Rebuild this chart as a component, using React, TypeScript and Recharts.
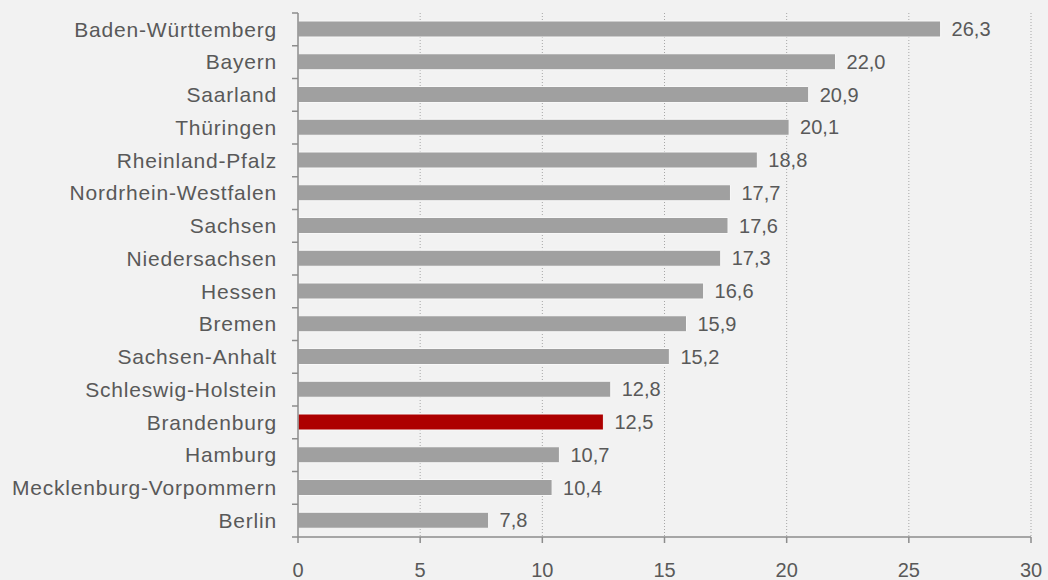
import React from 'react';
import { BarChart, Bar, XAxis, YAxis, CartesianGrid, Cell, LabelList } from 'recharts';

const states = [
  'Baden-Württemberg',
  'Bayern',
  'Saarland',
  'Thüringen',
  'Rheinland-Pfalz',
  'Nordrhein-Westfalen',
  'Sachsen',
  'Niedersachsen',
  'Hessen',
  'Bremen',
  'Sachsen-Anhalt',
  'Schleswig-Holstein',
  'Brandenburg',
  'Hamburg',
  'Mecklenburg-Vorpommern',
  'Berlin',
];
const values = [26.3, 22.0, 20.9, 20.1, 18.8, 17.7, 17.6, 17.3, 16.6, 15.9, 15.2, 12.8, 12.5, 10.7, 10.4, 7.8];
const highlight = 'Brandenburg';
const xTicks = [0, 5, 10, 15, 20, 25, 30];

const data = states.map((name, i) => ({ name, value: values[i] }));

const FONT = '"Liberation Sans", Arial, sans-serif';
const TEXT = '#595959';
const AXIS = '#8c8c8c';
const BAND = 32.75;

// category label centred on the band, tick marks on the band edges (Excel style)
const StateTick = (props: any) => {
  const { x, y, payload, index } = props;
  const last = index === states.length - 1;
  return (
    <g>
      <line x1={x + 21} x2={x + 27} y1={y - BAND / 2} y2={y - BAND / 2} stroke={AXIS} strokeWidth={1.5} />
      {last && <line x1={x + 21} x2={x + 27} y1={y + BAND / 2} y2={y + BAND / 2} stroke={AXIS} strokeWidth={1.5} />}
      <text
        x={x + 6}
        y={y}
        dy="0.35em"
        textAnchor="end"
        fill={TEXT}
        fontSize={21}
        letterSpacing={0.8}
        fontFamily={FONT}
      >
        {payload.value}
      </text>
    </g>
  );
};

const fmt = (v: any) => Number(v).toFixed(1).replace('.', ',');

export default function App() {
  return (
    <div style={{ position: 'fixed', left: 0, top: 0, width: 1048, height: 580, background: '#f2f2f2' }}>
      <BarChart
        width={1048}
        height={580}
        data={data}
        layout="vertical"
        margin={{ top: 13, right: 17, left: 0, bottom: 13 }}
      >
        <CartesianGrid
          horizontal={false}
          stroke="#a6a6a6"
          strokeDasharray="1 2"
          verticalValues={[5, 10, 15, 20, 25, 30]}
        />
        <XAxis
          type="number"
          domain={[0, 30]}
          ticks={xTicks}
          height={30}
          stroke={AXIS}
          strokeWidth={1.5}
          tickSize={6}
          tickMargin={20}
          tick={{ fill: TEXT, fontSize: 20, fontFamily: FONT }}
        />
        <YAxis
          type="category"
          dataKey="name"
          width={298}
          stroke={AXIS}
          strokeWidth={1.5}
          tickLine={false}
          tick={<StateTick />}
          tickMargin={21}
          interval={0}
        />
        <Bar dataKey="value" barSize={16} fill="#a0a0a0" stroke="#f8f8f8" strokeWidth={1} isAnimationActive={false}>
          {data.map((d) => (
            <Cell key={d.name} fill={d.name === highlight ? '#ad0000' : '#a0a0a0'} />
          ))}
          <LabelList
            dataKey="value"
            position="right"
            offset={11}
            formatter={fmt}
            fill={TEXT}
            fontSize={20}
            fontFamily={FONT}
          />
        </Bar>
      </BarChart>
    </div>
  );
}
